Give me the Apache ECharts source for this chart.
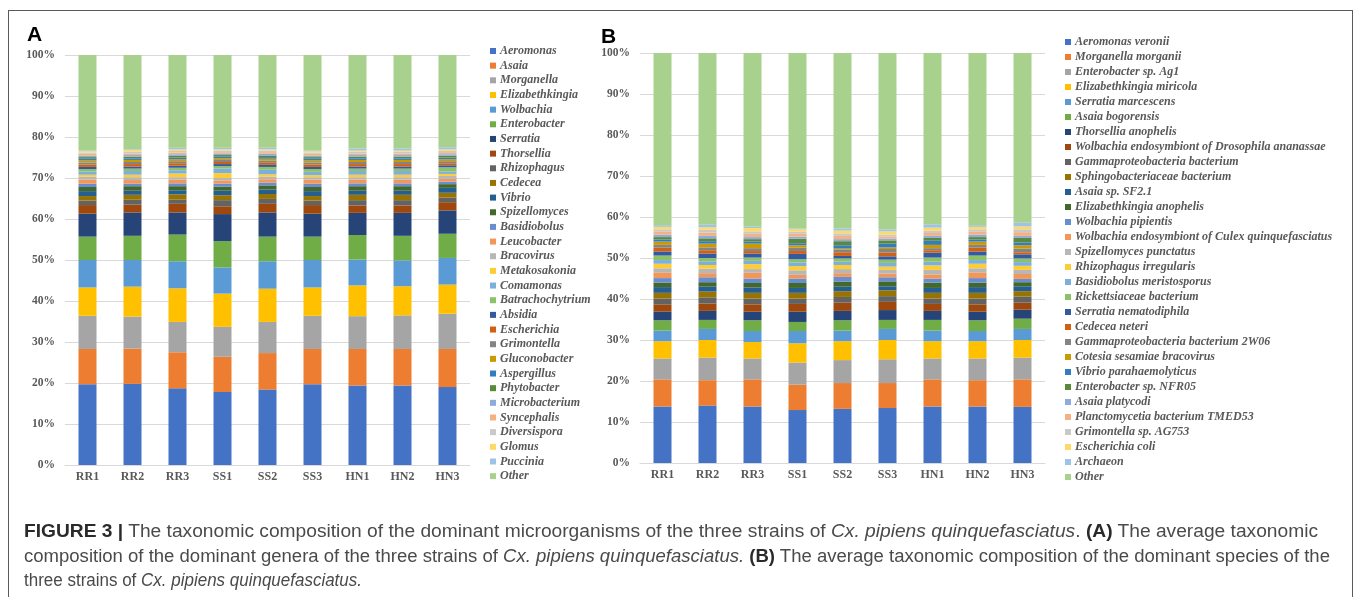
<!DOCTYPE html>
<html>
<head>
<meta charset="utf-8">
<script src="https://cdn.jsdelivr.net/npm/echarts/dist/echarts.min.js"></script>
<style>
  html, body { margin: 0; padding: 0; background: #fff; }
  #wrap { position: relative; width: 1357px; height: 597px; overflow: hidden; }
  #chart { position: absolute; left: 0; top: 0; width: 1357px; height: 597px; }
  #frame { position: absolute; left: 8px; top: 10px; width: 1343px; height: 600px;
           border: 1px solid #5a5a5a; pointer-events: none; }
  #caption { position: absolute; left: 24px; top: 519px; color: #4a4a4a;
             font-family: "Liberation Sans", Arial, sans-serif;
             font-size: 17.5px; line-height: 24.5px; white-space: nowrap; pointer-events: none; }
  #caption span { display: inline-block; transform-origin: 0 50%; }
  #caption b { font-weight: bold; color: #2a2a2a; }
</style>
</head>
<body>
<div id="wrap">
  <div id="chart"></div>
  <div id="frame"></div>
  <div id="caption">
    <span data-w="1294"><b>FIGURE 3 |</b> The taxonomic composition of the dominant microorganisms of the three strains of <i>Cx. pipiens quinquefasciatus</i>. <b>(A)</b> The average taxonomic</span><br>
    <span data-w="1306">composition of the dominant genera of the three strains of <i>Cx. pipiens quinquefasciatus.</i> <b>(B)</b> The average taxonomic composition of the dominant species of the</span><br>
    <span data-w="338">three strains of <i>Cx. pipiens quinquefasciatus.</i></span>
  </div>
</div>
<script>
// Sample groups (x categories) shared by both panels
const samples = ['RR1', 'RR2', 'RR3', 'SS1', 'SS2', 'SS3', 'HN1', 'HN2', 'HN3'];

// Panel A: dominant genera (stack order bottom -> top)
const genera = ['Aeromonas', 'Asaia', 'Morganella', 'Elizabethkingia', 'Wolbachia', 'Enterobacter',
  'Serratia', 'Thorsellia', 'Rhizophagus', 'Cedecea', 'Vibrio', 'Spizellomyces', 'Basidiobolus',
  'Leucobacter', 'Bracovirus', 'Metakosakonia', 'Comamonas', 'Batrachochytrium', 'Absidia',
  'Escherichia', 'Grimontella', 'Gluconobacter', 'Aspergillus', 'Phytobacter', 'Microbacterium',
  'Syncephalis', 'Diversispora', 'Glomus', 'Puccinia', 'Other'];

// Panel A relative abundance (%) per sample, in the order of `genera`
const genusRR1 = [19.7, 8.6, 8.1, 6.9, 6.7, 5.7, 5.6, 2.1, 1.1, 1.1, 1.2, 1.0, 0.8, 1.0, 0.7, 0.5, 0.8, 0.6, 0.5, 0.6, 0.5, 0.5, 0.4, 0.4, 0.4, 0.4, 0.3, 0.3, 0.2, 23.3];
const genusRR2 = [19.8, 8.6, 7.8, 7.3, 6.5, 5.9, 5.7, 1.9, 1.2, 1.2, 1.0, 1.1, 0.6, 0.9, 0.7, 0.6, 0.9, 0.6, 0.5, 0.6, 0.5, 0.5, 0.4, 0.4, 0.4, 0.4, 0.4, 0.4, 0.2, 23.0];
const genusRR3 = [18.7, 8.8, 7.4, 8.2, 6.6, 6.5, 5.4, 2.1, 1.0, 1.3, 1.0, 1.0, 0.7, 0.9, 0.6, 0.9, 0.8, 0.6, 0.5, 0.6, 0.5, 0.5, 0.4, 0.4, 0.4, 0.4, 0.4, 0.4, 0.4, 22.6];
const genusSS1 = [17.8, 8.6, 7.3, 8.1, 6.4, 6.4, 6.6, 1.9, 1.5, 1.2, 1.1, 1.0, 0.7, 0.8, 0.6, 1.2, 1.1, 0.6, 0.5, 0.5, 0.5, 0.4, 0.4, 0.4, 0.4, 0.3, 0.4, 0.3, 0.4, 22.6];
const genusSS2 = [18.4, 8.9, 7.6, 8.1, 6.7, 6.0, 5.9, 2.1, 1.2, 1.2, 1.1, 1.0, 0.7, 0.8, 0.6, 0.6, 1.1, 0.7, 0.5, 0.5, 0.5, 0.5, 0.4, 0.4, 0.4, 0.4, 0.4, 0.3, 0.4, 22.6];
const genusSS3 = [19.7, 8.6, 8.1, 6.9, 6.7, 5.7, 5.6, 2.1, 1.1, 1.1, 1.2, 1.0, 0.8, 1.0, 0.6, 0.5, 0.8, 0.7, 0.5, 0.6, 0.5, 0.5, 0.4, 0.4, 0.4, 0.4, 0.3, 0.3, 0.2, 23.3];
const genusHN1 = [19.4, 8.9, 8.0, 7.5, 6.3, 6.0, 5.4, 1.8, 1.3, 1.3, 1.0, 1.1, 0.7, 0.9, 0.6, 0.6, 0.9, 0.6, 0.5, 0.6, 0.5, 0.5, 0.4, 0.4, 0.4, 0.4, 0.4, 0.3, 0.5, 22.8];
const genusHN2 = [19.4, 8.9, 8.2, 7.1, 6.3, 6.0, 5.6, 1.8, 1.3, 1.3, 1.0, 1.1, 0.7, 0.9, 0.6, 0.6, 0.9, 0.6, 0.5, 0.6, 0.5, 0.5, 0.4, 0.4, 0.4, 0.4, 0.4, 0.3, 0.5, 22.8];
const genusHN3 = [19.0, 9.3, 8.6, 7.1, 6.5, 5.9, 5.7, 2.0, 1.1, 1.2, 1.2, 0.9, 0.6, 0.7, 0.7, 0.5, 0.6, 1.0, 0.5, 0.5, 0.5, 0.5, 0.4, 0.4, 0.4, 0.3, 0.5, 0.4, 0.5, 22.5];

// Panel B: dominant species (stack order bottom -> top)
const species = ['Aeromonas veronii', 'Morganella morganii', 'Enterobacter sp. Ag1', 'Elizabethkingia miricola',
  'Serratia marcescens', 'Asaia bogorensis', 'Thorsellia anophelis', 'Wolbachia endosymbiont of Drosophila ananassae',
  'Gammaproteobacteria bacterium', 'Sphingobacteriaceae bacterium', 'Asaia sp. SF2.1', 'Elizabethkingia anophelis',
  'Wolbachia pipientis', 'Wolbachia endosymbiont of Culex quinquefasciatus', 'Spizellomyces punctatus',
  'Rhizophagus irregularis', 'Basidiobolus meristosporus', 'Rickettsiaceae bacterium', 'Serratia nematodiphila',
  'Cedecea neteri', 'Gammaproteobacteria bacterium 2W06', 'Cotesia sesamiae bracovirus', 'Vibrio parahaemolyticus',
  'Enterobacter sp. NFR05', 'Asaia platycodi', 'Planctomycetia bacterium TMED53', 'Grimontella sp. AG753',
  'Escherichia coli', 'Archaeon', 'Other'];

// Panel B relative abundance (%) per sample, in the order of `species`
const speciesRR1 = [13.8, 6.6, 5.1, 4.2, 2.6, 2.5, 2.1, 1.8, 1.4, 1.4, 1.4, 1.1, 1.1, 1.4, 1.0, 1.1, 0.9, 1.1, 1.0, 0.9, 0.7, 0.8, 0.5, 0.6, 0.6, 0.8, 0.5, 0.6, 0.4, 42.0];
const speciesRR2 = [14.0, 6.2, 5.5, 4.3, 2.7, 2.2, 2.2, 1.8, 1.5, 1.4, 1.2, 1.1, 1.2, 1.0, 1.1, 0.9, 0.9, 0.8, 1.1, 0.8, 0.7, 0.9, 0.6, 0.7, 0.6, 0.8, 0.7, 0.6, 0.7, 41.8];
const speciesRR3 = [13.8, 6.6, 5.1, 4.0, 2.7, 2.6, 2.1, 1.8, 1.4, 1.4, 1.3, 1.1, 1.1, 1.4, 0.9, 1.2, 0.8, 0.8, 1.0, 0.6, 0.7, 1.1, 0.5, 0.6, 0.5, 0.8, 0.6, 0.8, 0.3, 42.4];
const speciesSS1 = [12.9, 6.2, 5.4, 4.7, 3.0, 2.2, 2.5, 1.9, 1.3, 1.4, 1.2, 1.2, 1.1, 0.9, 1.1, 1.0, 0.9, 0.8, 1.3, 0.7, 0.8, 0.6, 0.5, 1.1, 0.5, 0.7, 0.5, 0.6, 0.2, 42.8];
const speciesSS2 = [13.2, 6.3, 5.6, 4.6, 2.6, 2.5, 2.3, 2.0, 1.4, 1.4, 1.1, 1.2, 1.2, 0.9, 1.0, 1.0, 0.8, 0.8, 0.6, 0.9, 0.6, 0.3, 0.8, 1.0, 0.5, 0.8, 0.6, 0.7, 0.5, 42.8];
const speciesSS3 = [13.4, 6.1, 5.8, 4.7, 2.7, 2.2, 2.4, 2.0, 1.4, 1.4, 1.0, 1.2, 1.0, 0.9, 0.9, 0.8, 0.9, 0.8, 0.8, 0.9, 0.9, 0.4, 0.9, 0.8, 0.4, 0.5, 0.5, 0.8, 0.5, 43.0];
const speciesHN1 = [13.8, 6.6, 5.1, 4.2, 2.6, 2.6, 2.2, 1.7, 1.3, 1.4, 1.2, 1.3, 1.0, 1.0, 1.1, 1.1, 0.9, 1.0, 1.2, 0.6, 0.5, 0.8, 1.0, 0.7, 0.5, 0.7, 0.6, 0.7, 0.8, 41.8];
const speciesHN2 = [13.8, 6.4, 5.3, 4.2, 2.5, 2.6, 2.1, 1.8, 1.4, 1.4, 1.4, 1.1, 1.1, 1.4, 1.0, 1.1, 0.9, 1.1, 1.0, 0.9, 0.7, 0.8, 0.5, 0.6, 0.6, 0.8, 0.5, 0.6, 0.4, 42.0];
const speciesHN3 = [13.7, 6.7, 5.3, 4.3, 2.7, 2.5, 2.2, 1.7, 1.5, 1.3, 1.2, 1.0, 0.8, 1.2, 1.0, 1.0, 0.9, 0.9, 1.0, 0.5, 0.9, 0.8, 0.7, 1.1, 0.5, 0.9, 0.7, 0.7, 0.9, 41.4];

// y-axis tick values (%)
const yTicks = [0, 10, 20, 30, 40, 50, 60, 70, 80, 90, 100];

// Office-style 30 colour palette
const palette = ['#4472C4', '#ED7D31', '#A5A5A5', '#FFC000', '#5B9BD5', '#70AD47',
  '#264478', '#9E480E', '#636363', '#997300', '#255E91', '#43682B',
  '#698ED0', '#F1975A', '#B7B7B7', '#FFCD33', '#7CAFDD', '#8CC168',
  '#335AA1', '#D26012', '#848484', '#CC9A00', '#327DC2', '#5A8A39',
  '#8FAADC', '#F4B183', '#C9C9C9', '#FFD966', '#9DC3E6', '#A9D18E'];

const genusBySample = [genusRR1, genusRR2, genusRR3, genusSS1, genusSS2, genusSS3, genusHN1, genusHN2, genusHN3];
const speciesBySample = [speciesRR1, speciesRR2, speciesRR3, speciesSS1, speciesSS2, speciesSS3, speciesHN1, speciesHN2, speciesHN3];

const axisFont = { fontFamily: 'Liberation Serif', fontWeight: 'bold', color: '#595959' };

function stackSeries(names, bySample, panel) {
  return names.map((name, i) => ({
    name: name,
    type: 'bar',
    stack: 'panel' + panel,
    xAxisIndex: panel,
    yAxisIndex: panel,
    barWidth: '40%',
    itemStyle: { color: palette[i] },
    emphasis: { disabled: true },
    data: bySample.map(s => s[i])
  }));
}

function makeY(idx) {
  return {
    type: 'value', gridIndex: idx, min: yTicks[0], max: yTicks[yTicks.length - 1],
    interval: yTicks[1] - yTicks[0],
    axisLine: { show: false }, axisTick: { show: false },
    axisLabel: Object.assign({ fontSize: 11.5, margin: 10, formatter: '{value}%' }, axisFont),
    splitLine: { lineStyle: { color: '#d9d9d9', width: 1 } }
  };
}

function makeX(idx) {
  return {
    type: 'category', gridIndex: idx, data: samples,
    axisLine: { lineStyle: { color: '#d9d9d9' } }, axisTick: { show: false },
    axisLabel: Object.assign({ fontSize: 12, margin: 6 }, axisFont)
  };
}

function makeLegend(names, left, top, gap) {
  return {
    orient: 'vertical', left: left, top: top, padding: 0,
    itemWidth: 6, itemHeight: 6, itemGap: gap, icon: 'rect',
    selectedMode: false,
    data: names,
    textStyle: { fontFamily: 'Liberation Serif', fontStyle: 'italic', fontWeight: 'bold',
                 fontSize: 12, lineHeight: 12, color: '#595959', padding: [0, 0, 0, -1] }
  };
}

const chart = echarts.init(document.getElementById('chart'), null, { renderer: 'canvas' });
chart.setOption({
  animation: false,
  backgroundColor: 'transparent',
  grid: [
    { left: 65, top: 55, width: 405, height: 410, containLabel: false, outerBoundsMode: 'none' },
    { left: 640, top: 53, width: 405, height: 410, containLabel: false, outerBoundsMode: 'none' }
  ],
  xAxis: [makeX(0), makeX(1)],
  yAxis: [makeY(0), makeY(1)],
  legend: [makeLegend(genera, 490, 45, 2.66), makeLegend(species, 1065, 36, 3.0)],
  graphic: [
    { type: 'text', left: 27, top: 25, style: { text: 'A', font: 'bold 21px "Liberation Sans"', fill: '#000' } },
    { type: 'text', left: 601, top: 27, style: { text: 'B', font: 'bold 21px "Liberation Sans"', fill: '#000' } }
  ],
  series: stackSeries(genera, genusBySample, 0).concat(stackSeries(species, speciesBySample, 1))
});

// Condense each caption line horizontally to its column width
document.querySelectorAll('#caption span[data-w]').forEach(function (line) {
  const target = parseFloat(line.getAttribute('data-w'));
  const w = line.getBoundingClientRect().width;
  line.style.transform = 'scaleX(' + (target / w).toFixed(4) + ')';
});
</script>
</body>
</html>
